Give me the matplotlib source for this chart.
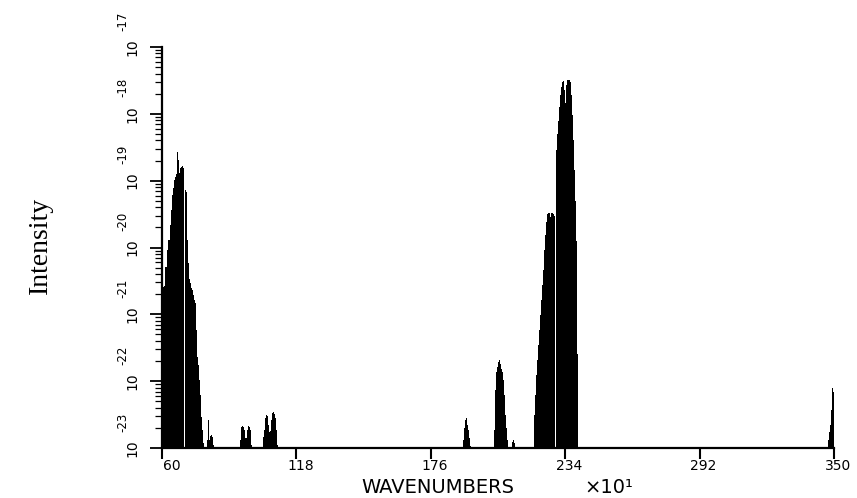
import numpy as np
import matplotlib
matplotlib.use("Agg")
import matplotlib.pyplot as plt
import matplotlib.transforms as mtransforms
from matplotlib.ticker import LogLocator, NullFormatter, FixedLocator

# Spectrometer channel width, in units of 10 cm^-1
CHANNEL = 0.4316
BASE_LOG = -23.0

# Band start positions (x 10 cm^-1) and log10 intensities per channel
band1_start = 60.00
band1_log = [-20.59, -20.59, -20.57, -20.29, -20.29, -20.04, -19.89, -19.89,
             -19.66, -19.44, -19.21, -19.11, -18.99, -18.95, -18.90, -18.57,
             -18.69, -18.89, -18.81, -18.80, -18.78, -18.81, -23.00, -19.14,
             -19.17, -19.89, -20.23, -20.47, -20.53, -20.60, -20.64, -20.71,
             -20.79, -20.83, -21.23, -21.64, -21.76, -21.98, -22.21, -22.54,
             -22.73, -22.93]

band2_start = 79.42
band2_log = [-22.88, -22.58, -22.88, -22.82, -22.80, -22.84, -22.95]

band3_start = 93.66
band3_log = [-22.88, -22.69, -22.67, -22.69, -22.73, -22.85, -22.85, -22.73,
             -22.67, -22.69, -22.73, -22.96]

band4_start = 103.59
band4_log = [-22.84, -22.73, -22.55, -22.51, -22.52, -22.66, -22.76, -22.75,
             -22.58, -22.48, -22.46, -22.49, -22.55, -22.73, -22.96]

band5_start = 189.91
band5_log = [-22.88, -22.70, -22.58, -22.55, -22.66, -22.73, -22.85, -22.97]

band6_start = 203.28
band6_log = [-22.73, -22.13, -21.86, -21.79, -21.71, -21.68, -21.74, -21.82,
             -21.86, -21.98, -22.21, -22.51, -22.70, -22.88]

band7_start = 211.05
band7_log = [-22.91, -22.88, -22.93]

band8_start = 220.55
band8_log = [-22.51, -22.21, -21.91, -21.68, -21.46, -21.23, -21.01, -20.79,
             -20.56, -20.34, -20.04, -19.81, -19.62, -19.50, -19.48, -19.48,
             -19.55, -19.48, -19.48, -19.50, -19.53, -23.00, -18.54, -18.30,
             -18.10, -17.90, -17.72, -17.60, -17.52, -17.51, -17.64, -17.84,
             -17.57, -17.49, -17.49, -17.50, -17.53, -17.72, -18.02, -18.39,
             -18.84, -19.30, -19.90, -21.60]

band9_start = 347.43
band9_log = [-22.88, -22.76, -22.66, -22.43, -22.10, -22.16]

x_ticks = [60, 118, 176, 234, 292, 350]
y_decades = [-23, -22, -21, -20, -19, -18, -17]

bands = [
    (band1_start, band1_log), (band2_start, band2_log), (band3_start, band3_log),
    (band4_start, band4_log), (band5_start, band5_log), (band6_start, band6_log),
    (band7_start, band7_log), (band8_start, band8_log), (band9_start, band9_log),
]

# Build a stepped spectrum: each channel holds its value until the next edge
xs, logs = [], []
for start, vals in bands:
    edges = start + CHANNEL * np.arange(len(vals) + 1)
    xs.extend(edges)
    logs.extend(list(vals) + [BASE_LOG])
xs = np.array(xs)
intensity = 10.0 ** np.array(logs)

fig = plt.figure(figsize=(8.57, 4.98), dpi=100)
ax = fig.add_axes([0.1890, 0.1004, 0.7841, 0.8052])

ax.fill_between(xs, 10.0 ** BASE_LOG, intensity, step="post",
                color="black", linewidth=0, antialiased=False)

ax.set_yscale("log")
ax.set_xlim(60, 350)
ax.set_ylim(10.0 ** -23, 10.0 ** -17)

for side in ("top", "right"):
    ax.spines[side].set_visible(False)
for side in ("left", "bottom"):
    ax.spines[side].set_linewidth(1.6)

ax.xaxis.set_major_locator(FixedLocator(x_ticks))
ax.tick_params(axis="x", direction="out", length=8, width=1.5,
               labelbottom=False)

ax.yaxis.set_major_locator(FixedLocator([10.0 ** e for e in y_decades]))
ax.yaxis.set_minor_locator(LogLocator(base=10, subs=np.arange(2, 10), numticks=20))
ax.yaxis.set_minor_formatter(NullFormatter())
ax.tick_params(axis="y", which="major", direction="out", length=9, width=1.3,
               labelleft=False)
ax.tick_params(axis="y", which="minor", direction="out", length=5, width=0.9)

# Tick labels set just right of each tick (the first one clears the corner)
xblend = mtransforms.blended_transform_factory(ax.transData, ax.transAxes)
for i, t in enumerate(x_ticks):
    nudge = (10 if i == 0 else 4) / 100
    shift = mtransforms.ScaledTranslation(nudge, -11 / 100, fig.dpi_scale_trans)
    ax.text(t, 0, str(t), ha="center", va="top", fontsize=10,
            transform=xblend + shift, clip_on=False)

# Rotated decade labels: mantissa on the tick, exponent raised above it
blend = mtransforms.blended_transform_factory(fig.transFigure, ax.transData)
raise_exp = mtransforms.ScaledTranslation(0, 26 / 100, fig.dpi_scale_trans)
for e in y_decades:
    ax.text(132 / 857, 10.0 ** e, "10", rotation=90, ha="center", va="center",
            fontsize=10, transform=blend, clip_on=False)
    ax.text(123 / 857, 10.0 ** e, str(e), rotation=90, ha="center", va="center",
            fontsize=8.5, transform=blend + raise_exp, clip_on=False)

fig.text(438 / 857, 1 - 492.5 / 498, "WAVENUMBERS", ha="center", va="baseline",
         fontsize=14)
fig.text(609 / 857, 1 - 492.5 / 498, "×10¹", ha="center", va="baseline",
         fontsize=14)
fig.text(40 / 857, 1 - 245 / 498, "Intensity", rotation=90, ha="center",
         va="center", fontsize=20, family="Liberation Serif")

fig.savefig("out.png", dpi=100)
